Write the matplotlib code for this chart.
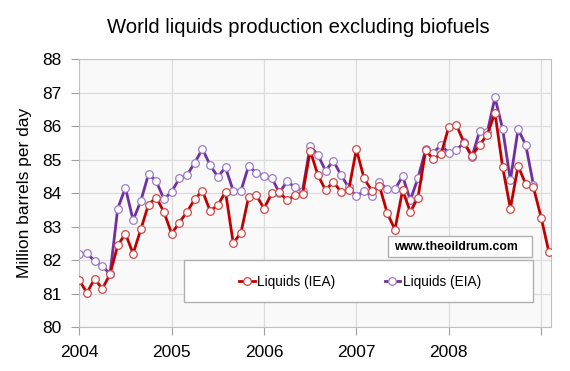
import matplotlib
matplotlib.use('Agg')
import matplotlib.pyplot as plt
from matplotlib.patches import Rectangle

plt.rcParams['font.family'] = ['Liberation Sans', 'DejaVu Sans']

# monthly values, Jan 2004 onward (million barrels per day)
iea = [81.40, 81.02, 81.44, 81.14, 81.58, 82.44, 82.79, 82.19, 82.92, 83.66, 83.87, 83.44,
       82.79, 83.12, 83.44, 83.82, 84.07, 83.47, 83.64, 84.04, 82.51, 82.81, 83.89, 83.94,
       83.54, 83.99, 84.02, 83.79, 83.94, 83.96, 85.27, 84.54, 84.09, 84.34, 84.04, 84.09,
       85.31, 84.44, 84.07, 84.21, 83.41, 82.91, 84.09, 83.44, 83.87, 85.28, 85.01, 85.17,
       85.98, 86.03, 85.50, 85.12, 85.44, 85.75, 86.40, 84.77, 83.54, 84.81, 84.27, 84.17,
       83.27, 82.24]
eia = [82.19, 82.21, 81.97, 81.82, 81.58, 83.54, 84.16, 83.19, 83.77, 84.57, 84.36, 83.82,
       84.04, 84.44, 84.54, 84.91, 85.32, 84.84, 84.49, 84.77, 84.07, 84.07, 84.81, 84.61,
       84.51, 84.46, 84.01, 84.36, 84.17, 84.06, 85.41, 85.14, 84.67, 84.97, 84.54, 84.17,
       83.91, 84.07, 83.91, 84.34, 84.11, 84.11, 84.51, 83.79, 84.45, 85.31, 85.21, 85.44,
       85.20, 85.29, 85.52, 85.08, 85.85, 85.82, 86.86, 85.91, 84.39, 85.91, 85.44, 84.24]
years = ['2004', '2005', '2006', '2007', '2008']

x_iea = list(range(len(iea)))
x_eia = list(range(len(eia)))

fig = plt.figure(figsize=(5.7, 3.71), dpi=100)
ax = fig.add_axes([0.139, 0.1186, 0.828, 0.7215])
ax.set_facecolor('#f9f9f9')

ax.plot(x_iea, iea, '-o', color='#c00000', lw=2.0, ms=5.5, mfc='white',
        mec='#d04848', mew=0.9, label='Liquids (IEA)', zorder=3)
ax.plot(x_eia, eia, '-o', color='#7030a0', lw=2.0, ms=5.5, mfc='white',
        mec='#9c7cc8', mew=0.9, label='Liquids (EIA)', zorder=2)

ax.set_xlim(0, 61.3)
ax.set_ylim(80, 88)
ax.set_xticks([0, 12, 24, 36, 48, 60])
ax.set_xticklabels(years + [''])
ax.set_yticks(range(80, 89))
ax.grid(True, color='#dcdcdc', lw=0.9)
ax.set_axisbelow(True)
for s in ax.spines.values():
    s.set_color('#c0c0c0')
ax.tick_params(axis='both', colors='#a0a0a0', labelcolor='black', labelsize=12.5)
ax.tick_params(axis='x', length=6, pad=7)
ax.tick_params(axis='y', length=6, pad=7)

ax.set_ylabel('Million barrels per day', fontsize=12.5, labelpad=7)
fig.text(0.523, 0.925, 'World liquids production excluding biofuels',
         ha='center', va='center', fontsize=14.6)

# legend box
ax.add_patch(Rectangle((0.222, 0.093), 0.74, 0.157, transform=ax.transAxes,
                       fc='white', ec='#b0b0b0', lw=1.0, zorder=4))
leg = ax.legend(loc='center', bbox_to_anchor=(0.595, 0.168), ncol=2, fontsize=9.8,
                frameon=False, handlelength=1.15, handletextpad=0.2,
                columnspacing=3.6)
leg.set_zorder(5)

# watermark
ax.add_patch(Rectangle((0.654, 0.261), 0.306, 0.079, transform=ax.transAxes,
                       fc='white', ec='#b0b0b0', lw=1.0, zorder=4))
ax.text(0.667, 0.30, 'www.theoildrum.com', transform=ax.transAxes, fontsize=8.8,
        fontweight='bold', va='center', ha='left', zorder=5)

fig.savefig('out.png', dpi=100)
